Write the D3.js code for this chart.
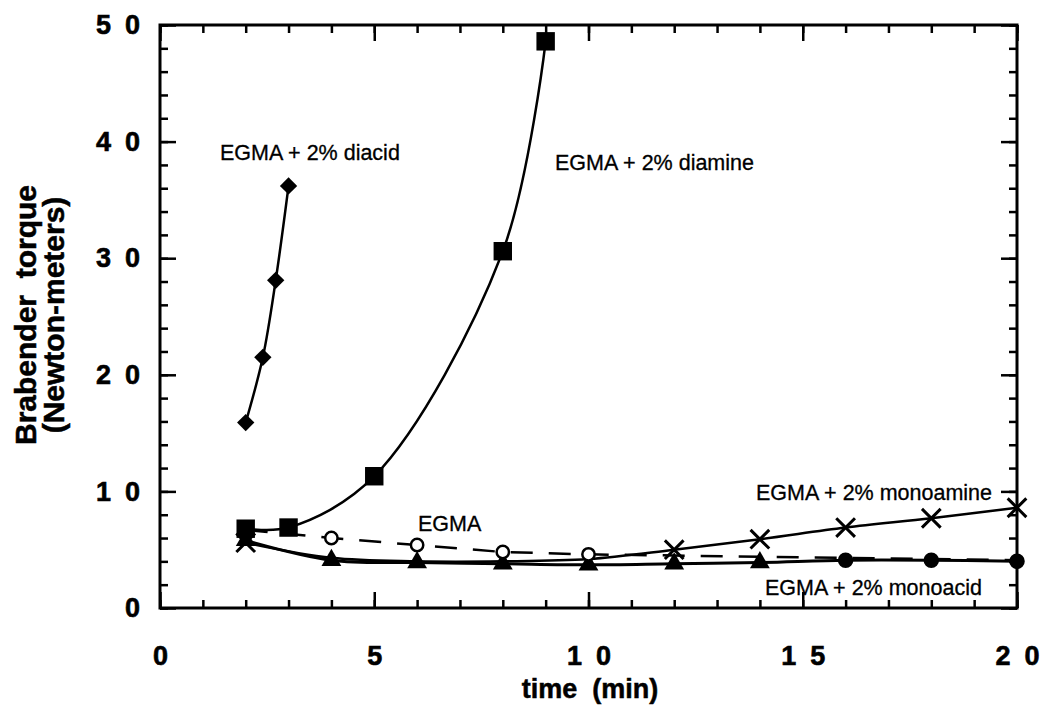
<!DOCTYPE html>
<html>
<head>
<meta charset="utf-8">
<script src="https://cdn.jsdelivr.net/npm/d3@7"></script>
<style>
  body { margin: 0; background: #fff; }
  svg { font-family: "Liberation Sans", Arial, Helvetica, sans-serif; }
</style>
</head>
<body>
<svg width="1045" height="707"></svg>
<script>
// time (min) for each series
var diacidTime = [2, 2.4, 2.7, 3];
var diacidTorque = [15.9, 21.5, 28.1, 36.2];

var diamineTime = [2, 3, 5, 8, 9];
var diamineTorque = [6.8, 6.9, 11.3, 30.6, 48.6];

var seriesTime = [2, 4, 6, 8, 10, 12, 14, 16, 18, 20];
var egmaTorque = [6.7, 6.0, 5.4, 4.8, 4.6, 4.5, 4.4, 4.3, 4.2, 4.1];
var monoamineTorque = [5.6, 4.3, 4.0, 4.0, 4.2, 5.0, 5.9, 6.9, 7.7, 8.6];
var monoacidTorque = [5.8, 4.1, 3.9, 3.8, 3.7, 3.8, 3.9, 4.1, 4.1, 4.0];

var xMajor = [0, 5, 10, 15, 20];
var yMajor = [0, 10, 20, 30, 40, 50];

var svg = d3.select("svg");

var x = d3.scaleLinear().domain([0, 20]).range([160, 1017]);
var y = d3.scaleLinear().domain([0, 50]).range([608, 25]);

function pts(xs, ys) { return xs.map(function (t, i) { return [t, ys[i]]; }); }

// frame
svg.append("rect")
    .attr("x", x(0)).attr("y", y(50))
    .attr("width", x(20) - x(0)).attr("height", y(0) - y(50))
    .attr("fill", "none").attr("stroke", "#000").attr("stroke-width", 3);

function styleAxis(g) {
  g.select(".domain").remove();
  g.selectAll(".tick line").attr("stroke", "#000").attr("stroke-width", 2.5);
  // spaced digits like "1 0"
  g.selectAll(".tick text")
      .attr("fill", "#000")
      .attr("font-size", 27)
      .attr("font-weight", "bold")
      .attr("stroke", "#000").attr("stroke-width", 0.6)
      .each(function () {
        var t = d3.select(this), s = t.text();
        if (!s) return;
        t.text(null);
        s.split("").forEach(function (c, i) {
          t.append("tspan").attr("dx", i ? 14 : 0).text(c);
        });
      });
}

// minor ticks, all four sides
var minorX = d3.range(0, 21, 1), minorY = d3.range(0, 51, 2);
svg.append("g").attr("transform", "translate(0," + y(0) + ")")
    .call(d3.axisBottom(x).tickValues(minorX).tickSize(-8).tickFormat(""))
    .call(styleAxis);
svg.append("g").attr("transform", "translate(0," + y(50) + ")")
    .call(d3.axisTop(x).tickValues(minorX).tickSize(-8).tickFormat(""))
    .call(styleAxis);
svg.append("g").attr("transform", "translate(" + x(0) + ",0)")
    .call(d3.axisLeft(y).tickValues(minorY).tickSize(-8).tickFormat(""))
    .call(styleAxis);
svg.append("g").attr("transform", "translate(" + x(20) + ",0)")
    .call(d3.axisRight(y).tickValues(minorY).tickSize(-8).tickFormat(""))
    .call(styleAxis);

// major ticks with labels
svg.append("g").attr("transform", "translate(0," + y(0) + ")")
    .call(d3.axisBottom(x).tickValues(xMajor).tickSize(-16).tickPadding(38).tickFormat(d3.format("d")))
    .call(styleAxis);
svg.append("g").attr("transform", "translate(0," + y(50) + ")")
    .call(d3.axisTop(x).tickValues(xMajor).tickSize(-16).tickFormat(""))
    .call(styleAxis);
svg.append("g").attr("transform", "translate(" + x(0) + ",0)")
    .call(d3.axisLeft(y).tickValues(yMajor).tickSize(-16).tickPadding(20).tickFormat(d3.format("d")))
    .call(styleAxis);
svg.append("g").attr("transform", "translate(" + x(20) + ",0)")
    .call(d3.axisRight(y).tickValues(yMajor).tickSize(-16).tickFormat(""))
    .call(styleAxis);

// axis titles
svg.append("text")
    .attr("x", 590).attr("y", 698)
    .attr("text-anchor", "middle")
    .attr("font-size", 27).attr("font-weight", "bold")
    .attr("stroke", "#000").attr("stroke-width", 0.5)
    .attr("xml:space", "preserve")
    .text("time  (min)");

var yt = svg.append("g").attr("transform", "translate(0,315) rotate(-90)")
    .attr("font-size", 30).attr("font-weight", "bold")
    .attr("stroke", "#000").attr("stroke-width", 0.5);
yt.append("text").attr("x", 0).attr("y", 36)
    .attr("text-anchor", "middle")
    .attr("xml:space", "preserve")
    .text("Brabender  torque");
yt.append("text").attr("x", 0).attr("y", 64)
    .attr("text-anchor", "middle")
    .text("(Newton-meters)");

// lines
var lin = d3.line().x(function (d) { return x(d[0]); }).y(function (d) { return y(d[1]); });
var smooth = d3.line().curve(d3.curveCatmullRom.alpha(0.5))
    .x(function (d) { return x(d[0]); }).y(function (d) { return y(d[1]); });

svg.append("path").attr("d", lin(pts(seriesTime, egmaTorque)))
    .attr("fill", "none").attr("stroke", "#000").attr("stroke-width", 2.5)
    .attr("stroke-dasharray", "22,16");
svg.append("path").attr("d", smooth(pts(seriesTime, monoacidTorque)))
    .attr("fill", "none").attr("stroke", "#000").attr("stroke-width", 3);
svg.append("path").attr("d", smooth(pts(seriesTime, monoamineTorque)))
    .attr("fill", "none").attr("stroke", "#000").attr("stroke-width", 2.5);
svg.append("path").attr("d", smooth(pts(diamineTime, diamineTorque)))
    .attr("fill", "none").attr("stroke", "#000").attr("stroke-width", 2.5);
svg.append("path").attr("d", smooth(pts(diacidTime, diacidTorque)))
    .attr("fill", "none").attr("stroke", "#000").attr("stroke-width", 2.5);

// markers
function marker(data, type, size, opts) {
  svg.append("g").selectAll("path")
      .data(data)
      .enter().append("path")
      .attr("transform", function (d) {
        return "translate(" + x(d[0]) + "," + y(d[1]) + ")" + (opts.rot ? " rotate(" + opts.rot + ")" : "");
      })
      .attr("d", function (d) {
        var t = typeof type === "function" ? type(d) : type;
        var s = typeof size === "function" ? size(d) : size;
        return d3.symbol().type(t).size(s)();
      })
      .attr("fill", opts.fill)
      .attr("stroke", "#000")
      .attr("stroke-width", opts.sw || 0);
}

marker(pts(seriesTime, monoacidTorque),
    function (d) { return d[0] <= 14 ? d3.symbolTriangle : d3.symbolCircle; },
    function (d) { return d[0] <= 14 ? 170 : 190; }, { fill: "#000" });
marker(pts(seriesTime, monoamineTorque).filter(function (d) { return d[0] >= 12 || d[0] == 2; }),
    d3.symbolX, 230, { fill: "none", sw: 3 });
marker(pts(seriesTime, egmaTorque).filter(function (d) { return d[0] >= 4 && d[0] <= 10; }),
    d3.symbolCircle, 120, { fill: "#fff", sw: 2.5 });
marker(pts(diamineTime, diamineTorque), d3.symbolSquare, 340, { fill: "#000" });
marker(pts(diacidTime, diacidTorque), d3.symbolSquare, 150, { fill: "#000", rot: 45 });

// series labels
var labels = [
  { t: "EGMA + 2% diacid", px: 220, py: 160 },
  { t: "EGMA + 2% diamine", px: 555, py: 170 },
  { t: "EGMA", px: 418, py: 531 },
  { t: "EGMA + 2% monoamine", px: 756, py: 500 },
  { t: "EGMA + 2% monoacid", px: 765, py: 595 }
];
svg.append("g").selectAll("text")
    .data(labels)
    .enter().append("text")
    .attr("x", function (d) { return d.px; })
    .attr("y", function (d) { return d.py; })
    .attr("font-size", 21.5)
    .attr("stroke", "#000").attr("stroke-width", 0.3)
    .text(function (d) { return d.t; });
</script>
</body>
</html>
